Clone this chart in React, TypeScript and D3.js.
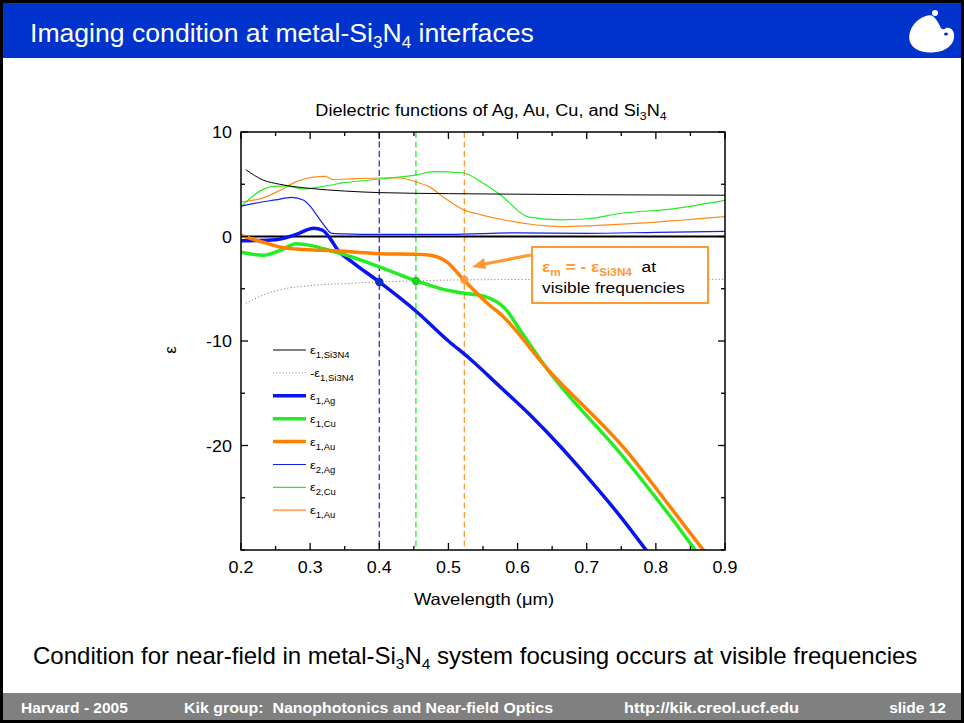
import React from 'react';
import * as d3 from 'd3';

const FONT = "'Liberation Sans', Arial, Helvetica, sans-serif";

// ---- axis ticks ----
const xTickValues = [0.2, 0.3, 0.4, 0.5, 0.6, 0.7, 0.8, 0.9];
const xMinorTicks = [0.25, 0.35, 0.45, 0.55, 0.65, 0.75, 0.85];
const yTickValues = [10, 0, -10, -20];
const yMinorTicks = [5, -5, -15, -25, -30];

// ---- series (wavelength µm, epsilon) ----
const eps1Si3N4: [number, number][] = [
  [0.207, 6.4], [0.232, 5.4], [0.256, 5.0], [0.3, 4.6], [0.35, 4.35], [0.4, 4.2],
  [0.5, 4.1], [0.6, 4.05], [0.7, 4.0], [0.9, 3.95],
];
const negEps1Si3N4: [number, number][] = [
  [0.207, -6.4], [0.232, -5.6], [0.256, -5.1], [0.3, -4.7], [0.35, -4.5], [0.4, -4.35],
  [0.45, -4.25], [0.52, -4.15], [0.7, -4.1], [0.9, -4.1],
];
const eps1Ag: [number, number][] = [
  [0.2, -0.4], [0.25, -0.3], [0.28, 0.2], [0.305, 0.8], [0.318, 0.6], [0.33, -0.3],
  [0.34, -1.3], [0.36, -2.4], [0.4, -4.35], [0.454, -7.2], [0.5, -10.0], [0.531, -11.7],
  [0.575, -14.4], [0.62, -17.2], [0.662, -20.1], [0.702, -23.1], [0.75, -26.9], [0.788, -30.2],
];
const eps1Cu: [number, number][] = [
  [0.2, -1.5], [0.232, -1.8], [0.256, -1.35], [0.28, -0.7], [0.3, -0.85], [0.329, -1.35],
  [0.353, -1.8], [0.4, -2.9], [0.454, -4.25], [0.498, -5.15], [0.531, -5.5], [0.551, -5.7],
  [0.582, -6.9], [0.604, -9.0], [0.642, -12.6], [0.753, -21.1], [0.821, -26.8], [0.86, -30.3],
];
const eps1Au: [number, number][] = [
  [0.2, 0.1], [0.232, -0.55], [0.256, -1.0], [0.28, -1.2], [0.305, -1.3], [0.329, -1.35],
  [0.367, -1.5], [0.4, -1.65], [0.454, -1.7], [0.474, -1.8], [0.498, -2.45], [0.522, -4.15],
  [0.56, -6.6], [0.575, -7.4], [0.642, -12.6], [0.756, -20.4], [0.821, -25.9], [0.872, -30.3],
];
const eps2Ag: [number, number][] = [
  [0.2, 2.9], [0.23, 3.3], [0.25, 3.5], [0.273, 3.75], [0.29, 3.5], [0.3, 2.9], [0.31, 2.0],
  [0.32, 1.1], [0.331, 0.3], [0.35, 0.25], [0.4, 0.2], [0.5, 0.2], [0.6, 0.35], [0.7, 0.3],
  [0.8, 0.4], [0.9, 0.5],
];
const eps2Cu: [number, number][] = [
  [0.2, 2.9], [0.246, 4.8], [0.265, 4.85], [0.29, 4.55], [0.315, 4.75], [0.35, 5.15],
  [0.4, 5.5], [0.454, 5.9], [0.478, 6.2], [0.52, 6.1], [0.548, 5.2], [0.575, 4.0],
  [0.616, 1.85], [0.662, 1.6], [0.702, 1.7], [0.748, 2.2], [0.825, 2.65], [0.9, 3.45],
];
const eps2Au: [number, number][] = [
  [0.2, 3.3], [0.232, 3.7], [0.256, 4.4], [0.28, 5.25], [0.302, 5.65], [0.322, 5.75],
  [0.333, 5.45], [0.353, 5.5], [0.4, 5.6], [0.43, 5.6], [0.454, 5.2], [0.474, 4.7],
  [0.493, 3.75], [0.522, 2.55], [0.546, 2.1], [0.579, 1.6], [0.662, 0.95], [0.71, 1.05],
  [0.758, 1.2], [0.9, 1.9],
];

// crossing points eps_m = -eps_Si3N4
const crossWl = [0.4, 0.453, 0.523];
const crossEps = [-4.35, -4.25, -4.15];
const crossColors = ['#2233EE', '#22EE22', '#FF9933'];
const crossMarkColors = ['#1030C0', '#22CC22', '#FF9944'];

const legendSubs = ['1,Si3N4', '1,Si3N4', '1,Ag', '1,Cu', '1,Au', '2,Ag', '2,Cu', '1,Au'];
const legendPrefix = ['', '-', '', '', '', '', '', ''];

const SX = 1.12;

function SText(props: any) {
  const { x, y, size, anchor = 'start', fill = '#000', weight = 'normal', children, sx = SX } = props;
  return (
    <g transform={`translate(${x},${y}) scale(${sx},1)`}>
      <text x={0} y={0} fontSize={size} textAnchor={anchor} fill={fill} fontWeight={weight} fontFamily={FONT}>
        {children}
      </text>
    </g>
  );
}

export default function App() {
  const x = d3.scaleLinear().domain([0.2, 0.9]).range([241, 725]);
  const y = d3.scaleLinear().domain([-30, 10]).range([550, 132]);
  const line = d3
    .line<[number, number]>()
    .x((d) => x(d[0]))
    .y((d) => y(d[1]))
    .curve(d3.curveMonotoneX);

  const series = [
    { data: eps2Au, color: '#FF8C1A', w: 1.2, dash: undefined },
    { data: eps2Cu, color: '#22EE22', w: 1.2, dash: undefined },
    { data: eps2Ag, color: '#1020EE', w: 1.2, dash: undefined },
    { data: eps1Si3N4, color: '#000', w: 1, dash: undefined },
    { data: negEps1Si3N4, color: '#888', w: 1, dash: '1.2,2.2' },
    { data: eps1Ag, color: '#0A14F0', w: 3.5, dash: undefined },
    { data: eps1Cu, color: '#22EE22', w: 3.5, dash: undefined },
    { data: eps1Au, color: '#FF8000', w: 3.5, dash: undefined },
  ];

  const legendStyles = [
    { color: '#000', w: 1, dash: undefined },
    { color: '#999', w: 1, dash: '1.2,2' },
    { color: '#0A14F0', w: 3.5, dash: undefined },
    { color: '#22EE22', w: 3.5, dash: undefined },
    { color: '#FF8000', w: 3.5, dash: undefined },
    { color: '#1020EE', w: 1.2, dash: undefined },
    { color: '#22EE22', w: 1.2, dash: undefined },
    { color: '#FFAA66', w: 2, dash: undefined },
  ];

  const [x0, x1] = x.range();
  const [yb, yt] = y.range();

  return (
    <svg width={964} height={723} style={{ position: 'absolute', left: 0, top: 0, background: '#fff' }} fontFamily={FONT}>
      <defs>
        <clipPath id="plotclip">
          <rect x={x0} y={yt} width={x1 - x0} height={yb - yt} />
        </clipPath>
      </defs>
      <rect x={0} y={0} width={964} height={723} fill="#fff" />
      {/* header bar */}
      <rect x={3} y={3} width={958} height={55} fill="#0033CC" />
      <text x={30} y={42} fontSize={26.6} fill="#fff" fontFamily={FONT}>
        Imaging condition at metal-Si
        <tspan fontSize={17} dy={6}>3</tspan>
        <tspan dy={-6}>N</tspan>
        <tspan fontSize={17} dy={6}>4</tspan>
        <tspan dy={-6}> interfaces</tspan>
      </text>
      {/* logo */}
      <g fill="#fff">
        <path d="M 926 16 C 914 20, 907 32, 910 42 C 913 50, 924 54, 936 52 C 946 51, 953 45, 954 38 C 955 31, 951 27, 946 28 C 944 30, 941 30, 940 26 C 938 22, 936 19, 934 17 C 932 15, 929 15, 926 16 Z" />
        <circle cx={935} cy={13} r={3} />
      </g>
      <ellipse cx={946} cy={34} rx={2} ry={1.5} fill="#0033CC" />

      {/* chart title */}
      <g transform={`translate(${(x0 + x1) / 2 + 8},116) scale(${SX},1)`}>
        <text x={0} y={0} fontSize={16.2} textAnchor="middle" fontFamily={FONT} fill="#000">
          Dielectric functions of Ag, Au, Cu, and Si
          <tspan fontSize={11} dy={4}>3</tspan>
          <tspan dy={-4}>N</tspan>
          <tspan fontSize={11} dy={4}>4</tspan>
        </text>
      </g>

      {/* vertical dashed lines */}
      {crossWl.map((w, i) => (
        <line key={'v' + i} x1={x(w)} x2={x(w)} y1={yt} y2={yb} stroke={crossColors[i]} strokeWidth={1.3} strokeDasharray="6,3.5" />
      ))}

      {/* zero line */}
      <line x1={x0} x2={x1} y1={y(0)} y2={y(0)} stroke="#000" strokeWidth={2.2} />

      {/* curves */}
      <g clipPath="url(#plotclip)">
        {series.map((s, i) => (
          <path key={'s' + i} d={line(s.data) || ''} fill="none" stroke={s.color} strokeWidth={s.w} strokeDasharray={s.dash} strokeLinejoin="round" />
        ))}
      </g>

      {/* markers */}
      {crossWl.map((w, i) => (
        <circle key={'m' + i} cx={x(w)} cy={y(crossEps[i])} r={4.2} fill={crossMarkColors[i]} />
      ))}

      {/* frame */}
      <rect x={x0} y={yt} width={x1 - x0} height={yb - yt} fill="none" stroke="#000" strokeWidth={1.5} />

      {/* ticks */}
      {xTickValues.map((v) => (
        <g key={'xt' + v}>
          <line x1={x(v)} x2={x(v)} y1={yb} y2={yb - 7} stroke="#000" strokeWidth={1.3} />
          <line x1={x(v)} x2={x(v)} y1={yt} y2={yt + 7} stroke="#000" strokeWidth={1.3} />
          <SText x={x(v)} y={yb + 23} size={16} anchor="middle">{d3.format('.1f')(v)}</SText>
        </g>
      ))}
      {xMinorTicks.map((v) => (
        <g key={'xm' + v}>
          <line x1={x(v)} x2={x(v)} y1={yb} y2={yb - 4} stroke="#000" strokeWidth={1.3} />
          <line x1={x(v)} x2={x(v)} y1={yt} y2={yt + 4} stroke="#000" strokeWidth={1.3} />
        </g>
      ))}
      {yTickValues.map((v) => (
        <g key={'yt' + v}>
          <line x1={x0} x2={x0 + 7} y1={y(v)} y2={y(v)} stroke="#000" strokeWidth={1.3} />
          <line x1={x1} x2={x1 - 7} y1={y(v)} y2={y(v)} stroke="#000" strokeWidth={1.3} />
          <SText x={x0 - 9} y={y(v) + 6} size={16} anchor="end">{String(v)}</SText>
        </g>
      ))}
      {yMinorTicks.map((v) => (
        <g key={'ym' + v}>
          <line x1={x0} x2={x0 + 4} y1={y(v)} y2={y(v)} stroke="#000" strokeWidth={1.3} />
          <line x1={x1} x2={x1 - 4} y1={y(v)} y2={y(v)} stroke="#000" strokeWidth={1.3} />
        </g>
      ))}

      {/* axis labels */}
      <SText x={(x0 + x1) / 2 + 1} y={605} size={16.5} anchor="middle">Wavelength (μm)</SText>
      <g transform={`translate(176,350) rotate(-90)`}>
        <text x={0} y={0} fontSize={17} textAnchor="middle" fontFamily={FONT}>ε</text>
      </g>

      {/* legend */}
      {legendSubs.map((sub, i) => {
        const ly = 350 + i * 22.9;
        const st = legendStyles[i];
        return (
          <g key={'lg' + i}>
            <line x1={273} x2={306} y1={ly} y2={ly} stroke={st.color} strokeWidth={st.w} strokeDasharray={st.dash} />
            <g transform={`translate(310,${ly + 4}) scale(${SX},1)`}>
              <text x={0} y={0} fontSize={11.5} fontFamily={FONT} fill="#000">
                {legendPrefix[i]}ε
                <tspan fontSize={8.5} dy={4}>{sub}</tspan>
              </text>
            </g>
          </g>
        );
      })}

      {/* annotation */}
      <line x1={531} y1={255} x2={482} y2={264.5} stroke="#FF9933" strokeWidth={3.2} />
      <path d="M 472 267 L 484 258 L 486 269 Z" fill="#FF9933" />
      <rect x={532} y={247} width={176} height={56} fill="#fff" stroke="#FF9933" strokeWidth={2} />
      <g transform={`translate(542,272) scale(${SX},1)`}>
        <text x={0} y={0} fontSize={15.5} fontFamily={FONT}>
          <tspan fill="#FF9933" fontWeight="bold">ε</tspan>
          <tspan fill="#FF9933" fontWeight="bold" fontSize={10.5} dy={4}>m</tspan>
          <tspan fill="#FF9933" fontWeight="bold" dy={-4}> = - ε</tspan>
          <tspan fill="#FF9933" fontWeight="bold" fontSize={10.5} dy={4}>Si3N4</tspan>
          <tspan fill="#000" dy={-4}>{'\u00A0 at'}</tspan>
        </text>
      </g>
      <SText x={542} y={293} size={15.5}>visible frequencies</SText>

      {/* bottom statement */}
      <text x={33} y={664} fontSize={24} fontFamily={FONT} fill="#000">
        Condition for near-field in metal-Si
        <tspan fontSize={15.5} dy={5}>3</tspan>
        <tspan dy={-5}>N</tspan>
        <tspan fontSize={15.5} dy={5}>4</tspan>
        <tspan dy={-5}> system focusing occurs at visible frequencies</tspan>
      </text>

      {/* footer */}
      <rect x={3} y={693} width={958} height={27} fill="#808080" />
      <g fill="#fff" fontWeight="bold" fontSize={15.5} fontFamily={FONT}>
        <text x={21} y={713}>Harvard - 2005</text>
        <text x={184} y={713} textLength={369} lengthAdjust="spacingAndGlyphs">{'Kik group:\u00A0 Nanophotonics and Near-field Optics'}</text>
        <text x={624} y={713} textLength={175} lengthAdjust="spacingAndGlyphs">http://kik.creol.ucf.edu</text>
        <text x={946} y={713} textAnchor="end">slide 12</text>
      </g>

      {/* slide border */}
      <rect x={1.5} y={1.5} width={961} height={720} fill="none" stroke="#000" strokeWidth={3} />
    </svg>
  );
}
